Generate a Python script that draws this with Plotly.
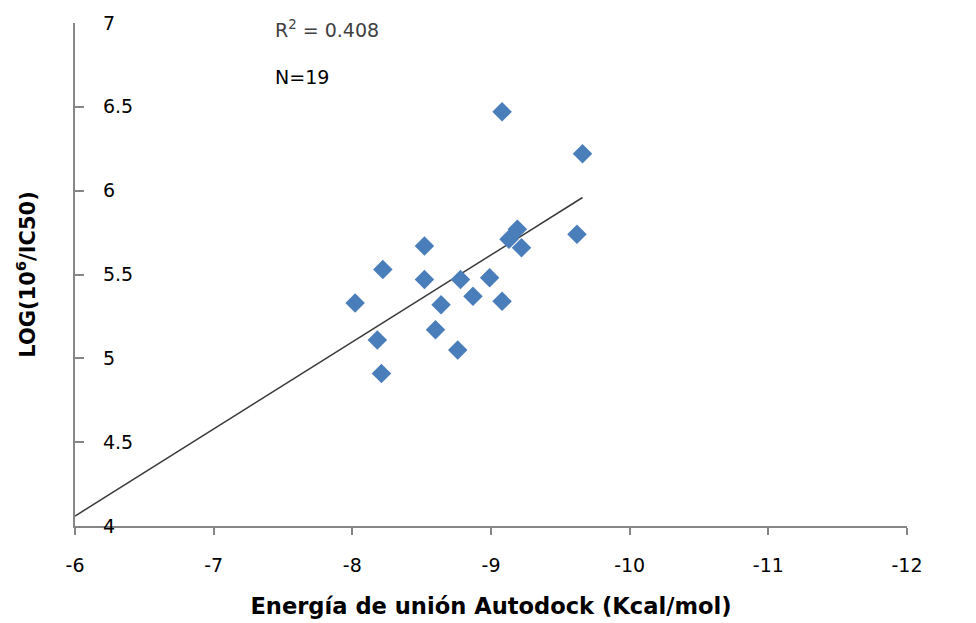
import numpy as np
import plotly.graph_objects as go

# Data
energy = [-8.02, -8.18, -8.21, -8.22, -8.52, -8.52, -8.60, -8.64, -8.76, -8.78,
          -8.87, -8.99, -9.08, -9.08, -9.13, -9.19, -9.22, -9.62, -9.66]
log_ic50 = [5.33, 5.11, 4.91, 5.53, 5.67, 5.47, 5.17, 5.32, 5.05, 5.47,
            5.37, 5.48, 5.34, 6.47, 5.71, 5.77, 5.66, 5.74, 6.22]
x_ticks = [-6, -7, -8, -9, -10, -11, -12]
y_ticks = [4, 4.5, 5, 5.5, 6, 6.5, 7]
y_tick_text = ["4", "4.5", "5", "5.5", "6", "6.5", "7"]
r2_label = "R<sup>2</sup> = 0.408"
n_label = "N=19"

# Linear trendline fitted to the data
slope, intercept = np.polyfit(energy, log_ic50, 1)
trend_x = np.array([-6.0, min(energy)])
trend_y = slope * trend_x + intercept

axis_gray = "#868686"
font_family = "DejaVu Sans"

fig = go.Figure()
fig.add_trace(go.Scatter(
    x=trend_x, y=trend_y, mode="lines",
    line=dict(color="#3a3a3a", width=1.5),
    hoverinfo="skip", showlegend=False,
))
fig.add_trace(go.Scatter(
    x=energy, y=log_ic50, mode="markers",
    marker=dict(symbol="diamond", size=15, color="#4A7EBB", line=dict(width=0)),
    showlegend=False,
))

fig.update_layout(
    width=976, height=623,
    margin=dict(l=75, r=69, t=23, b=97, autoexpand=False),
    plot_bgcolor="white", paper_bgcolor="white",
    font=dict(family=font_family, color="#000000"),
    annotations=[
        dict(x=0.238, y=0.988, xref="paper", yref="paper", text=r2_label,
             showarrow=False, xanchor="left", yanchor="middle",
             font=dict(size=19, color="#404040", family=font_family)),
        dict(x=0.238, y=0.893, xref="paper", yref="paper", text=n_label,
             showarrow=False, xanchor="left", yanchor="middle",
             font=dict(size=19, color="#000000", family=font_family)),
    ],
)

fig.update_xaxes(
    range=[-6, -12],
    tickmode="array", tickvals=x_ticks, ticktext=[str(v) for v in x_ticks],
    showline=True, linecolor=axis_gray, linewidth=1.5,
    ticks="outside", ticklen=7, tickcolor=axis_gray, tickwidth=1.5,
    tickfont=dict(size=19, color="#000000"),
    ticklabelstandoff=14, ticklabeloverflow="allow",
    showgrid=False, zeroline=False, automargin=False,
    title=dict(text="<b>Energía de unión Autodock (Kcal/mol)</b>",
               font=dict(size=22.6, color="#000000"), standoff=24),
)
fig.update_yaxes(
    range=[4, 7],
    tickmode="array", tickvals=y_ticks, ticktext=y_tick_text,
    showline=True, linecolor=axis_gray, linewidth=1.5,
    ticks="inside", ticklen=9, tickcolor=axis_gray, tickwidth=1.5,
    ticklabelposition="inside", ticklabelstandoff=20, ticklabeloverflow="allow",
    tickfont=dict(size=19, color="#000000"),
    showgrid=False, zeroline=False, automargin=False,
    title=dict(text="<b>LOG(10<sup>6</sup>/IC50)</b>",
               font=dict(size=21, color="#000000"), standoff=62),
)

fig.write_html(
    "out.html",
    config={"displayModeBar": False},
    post_script="document.body.style.margin='0';document.body.style.overflow='hidden';",
)
